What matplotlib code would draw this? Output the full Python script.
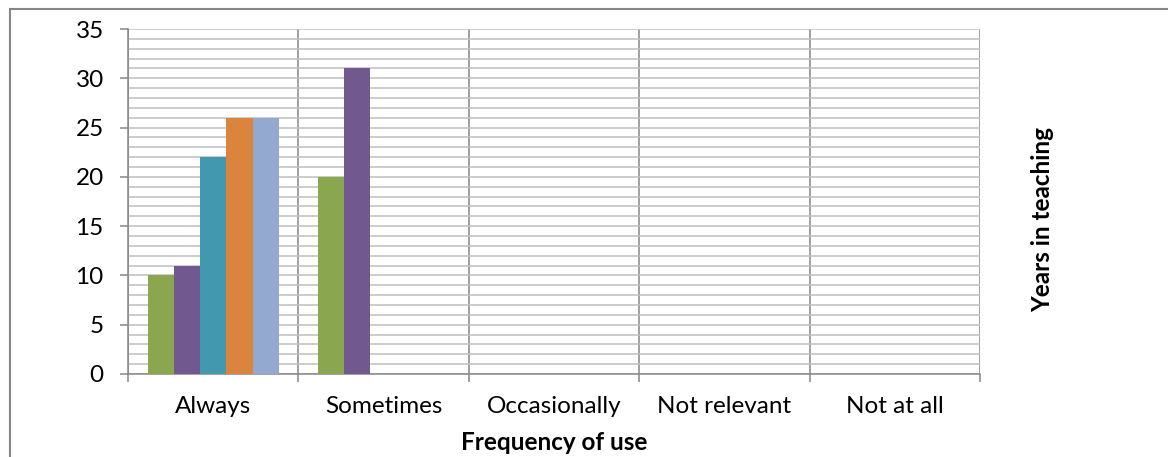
import matplotlib
matplotlib.use("Agg")
import matplotlib.pyplot as plt
from matplotlib.patches import Rectangle
import numpy as np

plt.rcParams['font.family'] = ['Lato', 'DejaVu Sans']

# 使用频率类别
categories = ["Always", "Sometimes", "Occasionally", "Not relevant", "Not at all"]
# 各教龄组在每个类别中的人数
group1 = [10, 20, 0, 0, 0]
group2 = [11, 31, 0, 0, 0]
group3 = [22, 0, 0, 0, 0]
group4 = [26, 0, 0, 0, 0]
group5 = [26, 0, 0, 0, 0]
series = [group1, group2, group3, group4, group5]
colors = ["#8AA64E", "#71588F", "#4198AF", "#DB843D", "#93A9CF"]

fs = 17.5

fig = plt.figure(figsize=(11.68, 4.57), dpi=100)
ax = fig.add_axes([128 / 1168, 1 - 374 / 457, (980 - 128) / 1168, (374 - 29) / 457])

x = np.arange(len(categories)) + 0.5
width = 0.154
for j, (vals, c) in enumerate(zip(series, colors)):
    ax.bar(x + (j - 2) * width, vals, width, color=c, zorder=3)

ax.set_xlim(0, len(categories))
ax.set_ylim(0, 35)

# 纵轴：主刻度每5，次刻度每1（网格）
ax.set_yticks(np.arange(0, 36, 5))
ax.set_yticks(np.arange(0, 36, 1), minor=True)
ax.grid(axis='y', which='both', color='#BFBFBF', linewidth=1.1, zorder=0)

# 横轴：分隔线在类别边界，标签在中间
ax.set_xticks(np.arange(0, len(categories) + 1))
ax.set_xticklabels([])
ax.set_xticks(x, minor=True)
ax.set_xticklabels(categories, minor=True)
ax.grid(axis='x', which='major', color='#868686', linewidth=1.1, zorder=1)

ax.tick_params(axis='y', which='major', length=5.5, width=1.1, color='#868686',
               labelsize=fs, pad=12)
ax.tick_params(axis='y', which='minor', length=0)
ax.tick_params(axis='x', which='major', length=6, width=1.1, color='#868686')
ax.tick_params(axis='x', which='minor', length=0, labelsize=fs, pad=16)

for s in ['left', 'bottom']:
    ax.spines[s].set_color('#868686')
    ax.spines[s].set_linewidth(1.1)
ax.spines['top'].set_visible(False)
ax.spines['right'].set_visible(False)

ax.set_xlabel("Frequency of use", fontsize=fs, fontweight='bold', labelpad=10)
fig.text(1043 / 1168, 1 - 220 / 457, "Years in teaching", rotation=90,
         fontsize=fs, fontweight='bold', ha='center', va='center')

# 外边框
fig.patches.append(Rectangle((10 / 1168, -0.1), 1.2, 1 - 9 / 457 + 0.1,
                             transform=fig.transFigure, fill=False,
                             edgecolor='#868686', linewidth=1.5))

fig.savefig("out.png", dpi=100)
